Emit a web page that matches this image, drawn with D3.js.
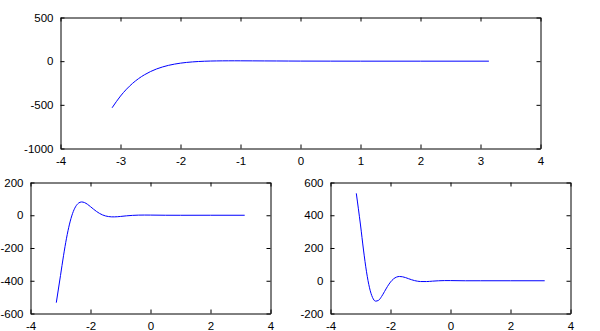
<!DOCTYPE html>
<html>
<head>
<meta charset="utf-8">
<script src="https://cdn.jsdelivr.net/npm/d3@7"></script>
<style>
  body { margin: 0; background: #fff; }
  svg { display: block; }
  .tick text { font-family: "Liberation Sans", Arial, sans-serif; font-size: 11.5px; fill: #000; }
  .domain, .tick line { stroke: #000; }
</style>
</head>
<body>
<div class="chart"></div>
<script>
// DATA ------------------------------------
const xs = [-3.14, -3.0, -2.9, -2.8, -2.7, -2.6, -2.5, -2.4, -2.3, -2.2, -2.1, -2.0,
            -1.9, -1.8, -1.7, -1.6, -1.5, -1.4, -1.3, -1.2, -1.1, -1.0,
            -0.8, -0.6, -0.4, -0.2, 0, 0.5, 1, 2, 3.14];

const topValues = [-533.7, -399.4, -320.7, -254.7, -200.1, -155.4, -118.9, -89.5, -66.3, -48.0, -33.7, -22.7,
                   -14.4, -8.3, -3.9, -0.7, 1.4, 2.8, 3.6, 4.0, 4.1, 4.0,
                   3.4, 2.7, 2.1, 1.5, 1.0, 0.32, 0.07, -0.01, 0];

const leftValues = [-533.7, -367.6, -247.4, -140.4, -54.0, 9.8, 51.5, 73.9, 81.2, 77.4, 66.7, 52.4,
                    37.3, 23.2, 11.3, 2.1, -4.2, -8.0, -9.8, -9.9, -8.9, -7.3,
                    -3.6, -0.8, 0.8, 1.2, 1.0, 0.03, -0.13, 0.02, 0];

const rightValues = [533.7, 340.5, 187.6, 54.9, -43.0, -101.7, -124.5, -119.7, -97.0, -66.1, -34.6, -8.0,
                     11.2, 22.3, 26.1, 24.3, 19.3, 12.7, 6.3, 1.0, -2.8, -4.8,
                     -4.9, -2.4, -0.1, 1.0, 1.0, -0.15, -0.09, 0, 0];

const xTicks = [-4, -3, -2, -1, 0, 1, 2, 3, 4];
const xTicksSmall = [-4, -2, 0, 2, 4];
const topYTicks = [-1000, -500, 0, 500];
const leftYTicks = [-600, -400, -200, 0, 200];
const rightYTicks = [-200, 0, 200, 400, 600];

// plain ascii labels, no thousands comma
const fmt = d => String(d);

// PANELS ----------------------------------
const svg = d3.select(".chart").append("svg")
    .attr("width", 600)
    .attr("height", 331);

const panels = [
  {left: 60, top: 17, w: 480, h: 131, ys: topValues, yDomain: [-1000, 500], xt: xTicks, yt: topYTicks},
  {left: 30, top: 182, w: 240, h: 131, ys: leftValues, yDomain: [-600, 200], xt: xTicksSmall, yt: leftYTicks},
  {left: 330, top: 182, w: 240, h: 131, ys: rightValues, yDomain: [-200, 600], xt: xTicksSmall, yt: rightYTicks}
];

panels.forEach(p => {
  const g = svg.append("g")
      .attr("transform", `translate(${p.left + 0.5},${p.top + 0.5})`);

  const x = d3.scaleLinear().domain([-4, 4]).range([0, p.w]);
  const y = d3.scaleLinear().domain(p.yDomain).range([p.h, 0]);

  // bottom + left axes with labels, ticks pointing inward
  g.append("g")
      .attr("transform", `translate(0,${p.h})`)
      .call(d3.axisBottom(x).tickValues(p.xt).tickFormat(fmt).tickSize(-4).tickPadding(8).tickSizeOuter(0));
  g.append("g")
      .call(d3.axisLeft(y).tickValues(p.yt).tickFormat(fmt).tickSize(-4).tickPadding(7).tickSizeOuter(0));

  // mirrored top + right axes, no labels
  g.append("g")
      .call(d3.axisTop(x).tickValues(p.xt).tickSize(-4).tickFormat("").tickSizeOuter(0));
  g.append("g")
      .attr("transform", `translate(${p.w},0)`)
      .call(d3.axisRight(y).tickValues(p.yt).tickSize(-4).tickFormat("").tickSizeOuter(0));

  const line = d3.line()
      .x((d, i) => x(xs[i]))
      .y(d => y(d))
      .curve(d3.curveMonotoneX);

  g.append("path")
      .datum(p.ys)
      .attr("fill", "none")
      .attr("stroke", "#0000ff")
      .attr("stroke-width", 1)
      .attr("d", line);
});
</script>
</body>
</html>
